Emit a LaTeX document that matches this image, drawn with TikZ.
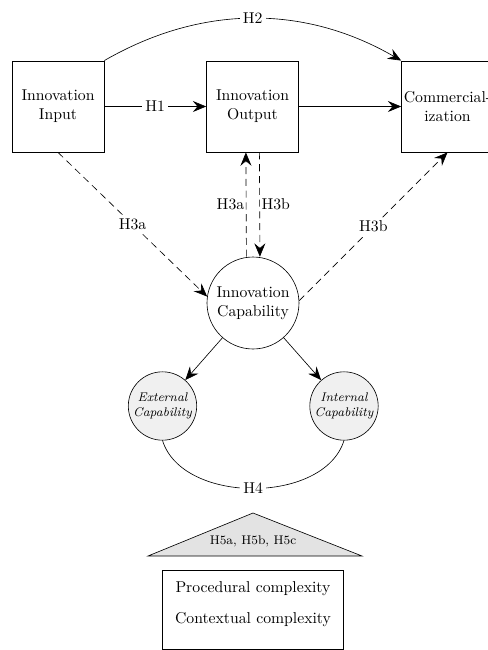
\documentclass[tikz,border=0pt]{standalone}
\usetikzlibrary{arrows.meta,calc}
\begin{document}
\begin{tikzpicture}[x=0.636pt,y=-0.636pt,
  every node/.style={inner sep=1pt},
  boxnode/.style={draw,minimum width=58.5pt,minimum height=58pt,align=center,inner sep=0pt},
  capnode/.style={draw,circle,minimum size=58.5pt,align=center,inner sep=0pt},
  subcap/.style={draw,circle,fill=black!6,minimum size=43.5pt,align=center,inner sep=0pt,font=\footnotesize\itshape},
  arr/.style={-{Stealth[length=8.5pt,width=7pt,inset=3pt]}},
  dsh/.style={dash pattern=on 4.5pt off 3pt},
  lbl/.style={fill=white,inner sep=2pt}]
\useasboundingbox (0,0) rectangle (488,650);
\clip (0,0) rectangle (488,650);
\node[boxnode] (in) at (58,106.5) {Innovation\\Input};
\node[boxnode] (out) at (252.5,106.5) {Innovation\\Output};
\node[boxnode] (com) at (447.5,106.5) {Commercial-\\ization};
\node[capnode] (cap) at (253,303) {Innovation\\Capability};
\node[subcap] (ext) at (162.5,406) {External\\Capability};
\node[subcap] (int) at (344,406) {Internal\\Capability};
% H1 and output->commercialization
\draw[arr] (in) -- node[lbl] {H1} (out);
\draw[arr] (out) -- (com);
% H2
\draw[arr] (in.north east) .. controls ($(in.north east)+(97,-56)$) and ($(com.north west)+(-97,-56)$) .. node[lbl,pos=0.5] {H2} (com.north west);
% H3a dashed
\draw[arr,dsh] (in.south) -- node[lbl] {H3a} (cap.172);
\draw[arr,dsh] ([xshift=-4.2pt]cap.north) -- node[left,pos=0.5] {H3a} ([xshift=-4.2pt]out.south);
\draw[arr,dsh] ([xshift=4.4pt]out.south) -- node[right,pos=0.5] {H3b} ([xshift=4.4pt]cap.north);
\draw[arr,dsh] (cap.3) -- node[lbl] {H3b} (com.south);
% capability split
\draw[arr] (cap) -- (ext);
\draw[arr] (cap) -- (int);
% H4
\draw (ext.south) .. controls ($(ext.south)+(20,64)$) and ($(int.south)+(-20,64)$) .. node[lbl,pos=0.5] {H4} (int.south);
% H5 triangle
\draw[fill=black!11] (148,556) -- (253,513) -- (362,556) -- cycle;
\node[font=\footnotesize] (h5) at (253,541) {H5a, H5b, H5c};
% complexity box
\draw (162,570) rectangle (343,649);
\node (pc) at (253,589) {Procedural complexity};
\node (cc) at (253,620) {Contextual complexity};
\end{tikzpicture}
\end{document}
